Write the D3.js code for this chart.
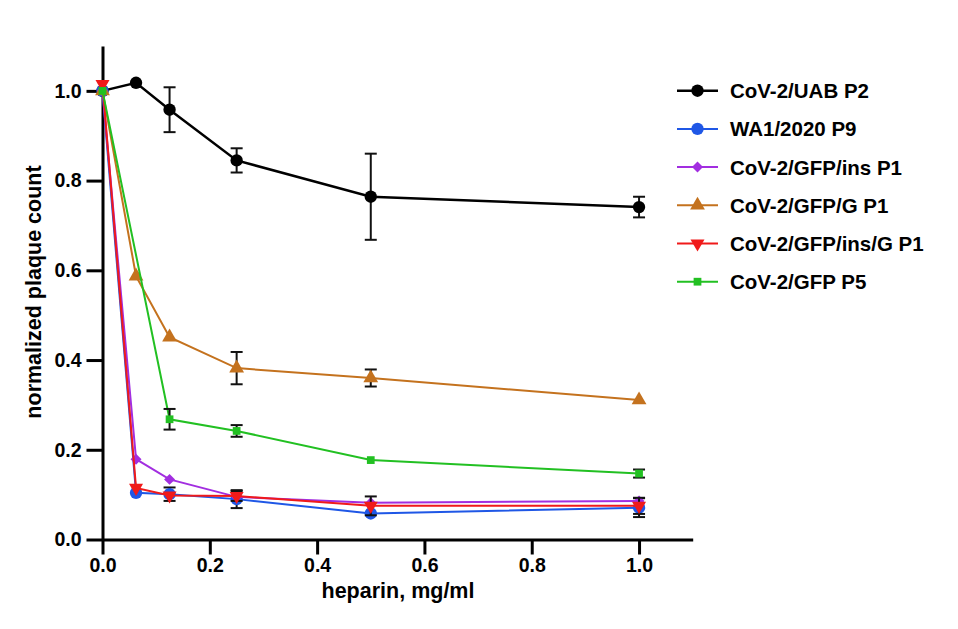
<!DOCTYPE html>
<html><head><meta charset="utf-8">
<script src="https://cdn.jsdelivr.net/npm/d3@7/dist/d3.min.js"></script>
<style>body{margin:0;background:#fff;} text{font-family:"Liberation Sans",Arial,sans-serif;font-weight:bold;}</style>
</head><body><svg id="c" width="958" height="629"></svg>
<script>
const doses = [0, 0.0625, 0.125, 0.25, 0.5, 1.0];
const seriesNames = ["CoV-2/UAB P2","WA1/2020 P9","CoV-2/GFP/ins P1","CoV-2/GFP/G P1","CoV-2/GFP/ins/G P1","CoV-2/GFP P5"];
const uabP2 = [1.0, 1.018, 0.958, 0.845, 0.764, 0.741];
const uabP2Err = [0, 0, 0.05, 0.027, 0.096, 0.023];
const wa1P9 = [1.0, 0.104, 0.101, 0.090, 0.058, 0.071];
const wa1P9Err = [0, 0, 0.015, 0.02, 0, 0.021];
const gfpInsP1 = [1.0, 0.179, 0.134, 0.095, 0.082, 0.086];
const gfpInsP1Err = [0, 0, 0, 0, 0, 0];
const gfpGP1 = [1.0, 0.587, 0.451, 0.382, 0.360, 0.311];
const gfpGP1Err = [0, 0, 0, 0.036, 0.019, 0];
const gfpInsGP1 = [1.015, 0.115, 0.098, 0.097, 0.075, 0.075];
const gfpInsGP1Err = [0, 0, 0, 0.011, 0.021, 0.018];
const gfpP5 = [1.0, null, 0.268, 0.242, 0.177, 0.147];
const gfpP5Err = [0, 0, 0.023, 0.013, 0, 0.009];
const xTicks = [0, 0.2, 0.4, 0.6, 0.8, 1.0];
const yTicks = [0, 0.2, 0.4, 0.6, 0.8, 1.0];

const seriesVals = [uabP2, wa1P9, gfpInsP1, gfpGP1, gfpInsGP1, gfpP5];
const seriesErrs = [uabP2Err, wa1P9Err, gfpInsP1Err, gfpGP1Err, gfpInsGP1Err, gfpP5Err];
const colors = ["#000000", "#1f57e6", "#a22ee0", "#c4721e", "#f01a1a", "#22c022"];
const symbols = ["circle", "circle", "diamond", "up", "down", "square"];
const symSizes = [120, 120, 60, 95, 85, 60];
const lineW = [2.5, 2, 2, 2, 2, 2];

const svg = d3.select("#c");
const x = d3.scaleLinear().domain([0, 1.1]).range([102.5, 692.7]);
const y = d3.scaleLinear().domain([0, 1.1]).range([539.5, 46]);

const xAxis = svg.append("g").attr("transform", "translate(0,539.5)")
  .call(d3.axisBottom(x).tickValues(xTicks).tickFormat(d3.format(".1f")).tickSize(15).tickSizeOuter(0).tickPadding(4));
const yAxis = svg.append("g").attr("transform", "translate(102.5,0)")
  .call(d3.axisLeft(y).tickValues(yTicks).tickFormat(d3.format(".1f")).tickSize(16).tickSizeOuter(0).tickPadding(5));
[xAxis, yAxis].forEach(a => {
  a.select(".domain").attr("stroke", "#000").attr("stroke-width", 3);
  a.selectAll(".tick line").attr("stroke", "#000").attr("stroke-width", 3);
  a.selectAll(".tick text").attr("fill", "#000").style("font-size", "19.5px").style("font-family", "'Liberation Sans',Arial,sans-serif").style("font-weight", "bold");
});

svg.append("text").attr("x", 398).attr("y", 598).attr("text-anchor", "middle")
  .style("font-size", "21.5px").text("heparin, mg/ml");
svg.append("text").attr("transform", "translate(41,292) rotate(-90)").attr("text-anchor", "middle")
  .style("font-size", "21.5px").text("normalized plaque count");

const symType = { circle: d3.symbolCircle, diamond: d3.symbolSquare, up: d3.symbolTriangle, down: d3.symbolTriangle, square: d3.symbolSquare };
const symRot = { circle: 0, diamond: 45, up: 0, down: 180, square: 0 };
function symPath(i) { return d3.symbol().type(symType[symbols[i]]).size(symSizes[i])(); }
function symTf(i, cx, cy) { return `translate(${cx},${cy}) rotate(${symRot[symbols[i]]})`; }

const line = d3.line().x(d => x(d.d)).y(d => y(d.v));

seriesVals.forEach((vals, i) => {
  const pts = doses.map((d, j) => ({ d, v: vals[j], e: seriesErrs[i][j] }));
  const valid = pts.filter(p => p.v !== null);
  const g = svg.append("g");
  g.append("path").datum(valid).attr("d", line).attr("fill", "none")
    .attr("stroke", colors[i]).attr("stroke-width", lineW[i]);
  valid.filter(p => p.e > 0).forEach(p => {
    const x0 = x(p.d), y1 = y(p.v + p.e), y2 = y(p.v - p.e);
    g.append("line").attr("x1", x0).attr("x2", x0).attr("y1", y1).attr("y2", y2).attr("stroke", "#111").attr("stroke-width", 2);
    [y1, y2].forEach(yy => g.append("line").attr("x1", x0 - 6).attr("x2", x0 + 6).attr("y1", yy).attr("y2", yy).attr("stroke", "#111").attr("stroke-width", 2));
  });
  g.selectAll(".m").data(valid).join("path")
    .attr("d", symPath(i))
    .attr("transform", p => symTf(i, x(p.d), y(p.v)))
    .attr("fill", colors[i]);
});

const lg = svg.append("g");
seriesNames.forEach((name, i) => {
  const yy = 90.7 + i * 38.2;
  lg.append("line").attr("x1", 677).attr("x2", 718).attr("y1", yy).attr("y2", yy)
    .attr("stroke", colors[i]).attr("stroke-width", lineW[i]);
  lg.append("path").attr("d", symPath(i))
    .attr("transform", symTf(i, 697.5, yy))
    .attr("fill", colors[i]);
  lg.append("text").attr("x", 730).attr("y", yy + 7.5).style("font-size", "20.5px").text(name);
});
</script></body></html>
